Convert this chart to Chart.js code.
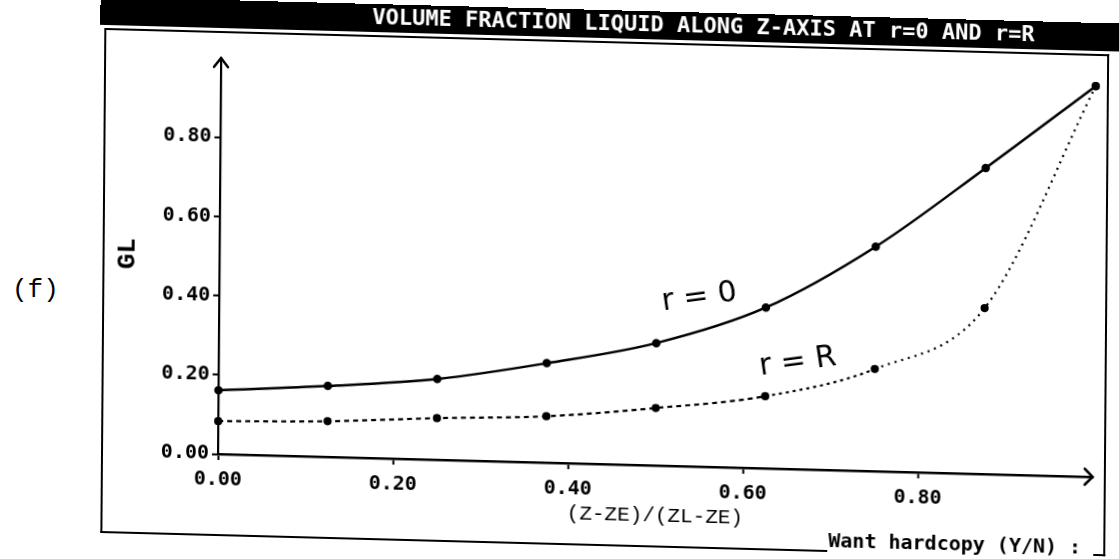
<!DOCTYPE html>
<html>
<head>
<meta charset="utf-8">
<script src="https://cdn.jsdelivr.net/npm/chart.js@4.4.1/dist/chart.umd.min.js"></script>
<style>
  html, body { margin: 0; padding: 0; background: #fff; }
  body { width: 1119px; height: 559px; overflow: hidden; position: relative; }
  /* the scanned screen is slightly skewed, so the whole sheet is tilted */
  #sheet {
    position: absolute; left: 0; top: 0; width: 1119px; height: 559px;
    transform-origin: 218px 454px;
    transform: rotate(0.45deg) skewY(1.05deg);
  }
  #chart { position: absolute; left: 0; top: 0; }
  .line { position: absolute; background: #000; }
  #band { position: absolute; left: 97px; top: 0; width: 1040px; height: 28px; background: #000; }
  #heading {
    position: absolute; left: 369px; top: 2px; color: #fff; white-space: pre;
    font: bold 22px/22px "DejaVu Sans Mono", monospace;
  }
  #prompt {
    position: absolute; left: 829px; top: 514px; white-space: pre; color: #000;
    font: bold 20px/20px "DejaVu Sans Mono", monospace;
  }
  .hand {
    position: absolute; color: #000; white-space: pre;
    font: 30px/30px "DejaVu Sans", sans-serif; transform: rotate(-9deg);
  }
  #panel {
    position: absolute; left: 12px; top: 275px; color: #000;
    font: 26px/30px "Liberation Mono", monospace;
  }
</style>
</head>
<body>
<div id="panel">(f)</div>
<div id="sheet">
  <canvas id="chart" width="1119" height="559"></canvas>
  <div id="band"></div>
  <div id="heading">VOLUME FRACTION LIQUID ALONG Z-AXIS AT r=0 AND r=R</div>
  <div class="line" style="left:102px; top:31px; width:1004px; height:2px;"></div>
  <div class="line" style="left:101px; top:31px; width:2px; height:505px;"></div>
  <div class="line" style="left:101px; top:534px; width:727px; height:2px;"></div>
  <div class="line" style="left:1104px; top:31px; width:2px; height:502px;"></div>
  <div class="line" style="left:1094px; top:531px; width:12px; height:2px;"></div>
  <div id="prompt">Want hardcopy (Y/N) :</div>
  <div class="hand" style="left:660px; top:268px;">r = 0</div>
  <div class="hand" style="left:758px; top:330px;">r = R</div>
</div>
<script>
const zPositions = [0, 0.125, 0.25, 0.375, 0.5, 0.625, 0.75, 0.875, 1.0];
const glCentre = [0.161, 0.179, 0.204, 0.251, 0.309, 0.406, 0.567, 0.773, 0.987];
const glWall = [0.083, 0.090, 0.105, 0.117, 0.145, 0.182, 0.258, 0.419, 0.987];
const xTickLabels = ["0.00", "0.20", "0.40", "0.60", "0.80"];
const yTickLabels = ["0.00", "0.20", "0.40", "0.60", "0.80"];

function toPoints(values) {
  return zPositions.map((z, i) => ({ x: z, y: values[i] }));
}

// no tick mark at the arrow ends
function tickColor(ctx) {
  return ctx.tick && ctx.tick.value >= 0.999 ? "rgba(0,0,0,0)" : "#000";
}

const tickFont = { family: "DejaVu Sans Mono", size: 20, weight: "bold" };

const axisArrows = {
  id: "axisArrows",
  afterDraw(chart) {
    const { ctx, chartArea: a } = chart;
    ctx.save();
    ctx.strokeStyle = "#000";
    ctx.lineWidth = 2.5;
    ctx.lineCap = "round";
    ctx.beginPath();
    ctx.moveTo(a.right - 8, a.bottom - 8);
    ctx.lineTo(a.right, a.bottom);
    ctx.lineTo(a.right - 8, a.bottom + 8);
    ctx.moveTo(a.left - 7, a.top + 9);
    ctx.lineTo(a.left, a.top);
    ctx.lineTo(a.left + 7, a.top + 9);
    ctx.stroke();
    ctx.restore();
  }
};

new Chart(document.getElementById("chart").getContext("2d"), {
  type: "line",
  data: {
    datasets: [
      {
        label: "r=0",
        data: toPoints(glCentre),
        borderColor: "#000",
        backgroundColor: "#000",
        borderWidth: 2.5,
        pointRadius: 3,
        pointBackgroundColor: "#000",
        cubicInterpolationMode: "monotone",
        clip: false
      },
      {
        label: "r=R",
        data: toPoints(glWall),
        borderColor: "#000",
        backgroundColor: "#000",
        borderWidth: 2.2,
        pointRadius: 3,
        pointBackgroundColor: "#000",
        cubicInterpolationMode: "monotone",
        clip: false,
        segment: {
          borderDash: (ctx) => ctx.p0DataIndex < 5 ? [5, 4] : (ctx.p0DataIndex === 5 ? [3, 4] : [2, 5])
        }
      }
    ]
  },
  options: {
    responsive: false,
    devicePixelRatio: 1,
    animation: false,
    layout: { padding: { left: 100, top: 58, right: 26, bottom: 42 } },
    plugins: { legend: { display: false }, tooltip: { enabled: false } },
    scales: {
      x: {
        type: "linear",
        min: 0,
        max: 1,
        ticks: {
          stepSize: 0.2,
          color: "#000",
          padding: 8,
          font: tickFont,
          maxRotation: 0,
          autoSkip: false,
          callback: (v, i) => xTickLabels[i] ?? ""
        },
        grid: { drawOnChartArea: false, drawTicks: true, tickLength: 6, tickWidth: 2, tickColor },
        border: { display: true, color: "#000", width: 2.5 },
        title: {
          display: true,
          text: "(Z-ZE)/(ZL-ZE)",
          color: "#000",
          font: { family: "Liberation Mono", size: 21 },
          padding: { top: 0, bottom: 0 }
        },
        afterFit: (s) => { s.height = 63; }
      },
      y: {
        type: "linear",
        min: 0,
        max: 1,
        ticks: {
          stepSize: 0.2,
          color: "#000",
          padding: 3,
          font: tickFont,
          callback: (v, i) => yTickLabels[i] ?? ""
        },
        grid: { drawOnChartArea: false, drawTicks: true, tickLength: 6, tickWidth: 2, tickColor },
        border: { display: true, color: "#000", width: 2.2 },
        title: {
          display: true,
          text: "GL",
          color: "#000",
          font: { family: "Liberation Mono", size: 26, weight: "bold" },
          padding: { top: 11, bottom: 0 }
        },
        afterFit: (s) => { s.width = 118; }
      }
    }
  },
  plugins: [axisArrows]
});
</script>
</body>
</html>
